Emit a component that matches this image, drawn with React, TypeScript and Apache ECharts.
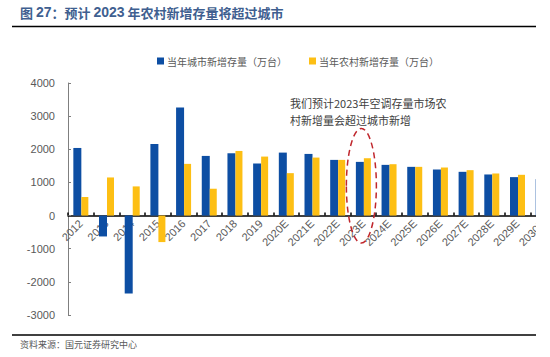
import React, { useEffect, useRef } from "react";
import * as echarts from "echarts";

const categories = ["2012", "2013", "2014", "2015", "2016", "2017", "2018", "2019", "2020E", "2021E", "2022E", "2023E", "2024E", "2025E", "2026E", "2027E", "2028E", "2029E", "2030E"];
const urbanNew = [2040, -630, -2350, 2160, 3260, 1800, 1880, 1570, 1900, 1860, 1680, 1620, 1530, 1470, 1390, 1320, 1240, 1160, 1100];
const ruralNew = [560, 1150, 880, -800, 1560, 810, 1950, 1780, 1280, 1750, 1680, 1730, 1550, 1470, 1450, 1370, 1270, 1230, 1180];
const urbanName = "当年城市新增存量（万台）";
const ruralName = "当年农村新增存量（万台）";
const yMin = -3000;
const yMax = 4000;
const yInterval = 1000;

const CJK = '"Noto Sans CJK SC", "Noto Sans", sans-serif';
const LAT = '"Liberation Sans", Arial, sans-serif';

const GRID_TOP = 83;
const GRID_BOTTOM = 42;
const H = 357;

export default function App() {
  const ref = useRef<HTMLDivElement>(null);
  useEffect(() => {
    if (!ref.current) return;
    const chart = echarts.init(ref.current, null, { renderer: "svg" });
    const gridH = H - GRID_TOP - GRID_BOTTOM;
    const zeroOffset = -(gridH * (-yMin)) / (yMax - yMin);
    const titleColor = "#3f5f90";
    const option: any = {
      animation: false,
      backgroundColor: "#ffffff",
      grid: { left: 68, right: -6, top: GRID_TOP, bottom: GRID_BOTTOM, containLabel: false, outerBoundsMode: "none" },
      legend: {
        left: 152,
        top: 51,
        itemWidth: 7,
        itemHeight: 7,
        itemGap: 22,
        icon: "rect",
        textStyle: { fontSize: 10, color: "#595959", fontFamily: CJK, padding: [0, 0, 0, -2] },
        data: [urbanName, ruralName],
      },
      xAxis: {
        type: "category",
        data: categories,
        offset: zeroOffset,
        z: 0,
        axisLine: { onZero: false, lineStyle: { color: "#000000", width: 1.5 } },
        axisTick: { show: true, inside: true, length: 3, lineStyle: { color: "#000000", width: 1.5 } },
        axisLabel: { rotate: 45, margin: 6, fontSize: 11, color: "#595959", fontFamily: LAT, interval: 0 },
        splitLine: { show: false },
      },
      yAxis: {
        type: "value",
        min: yMin,
        max: yMax,
        interval: yInterval,
        axisLine: { show: true, lineStyle: { color: "#7f7f7f", width: 1 } },
        axisTick: { show: true, inside: true, length: 3, lineStyle: { color: "#7f7f7f" } },
        axisLabel: { margin: 13, fontSize: 11, color: "#595959", fontFamily: LAT, formatter: (v: number) => String(v) },
        splitLine: { show: false },
      },
      series: [
        { name: urbanName, type: "bar", z: 5, data: urbanNew, barWidth: 8, barGap: "0%", itemStyle: { color: "#0d4ea3" } },
        { name: ruralName, type: "bar", z: 5, data: ruralNew, barWidth: 7, barGap: "0%", itemStyle: { color: "#fdbf14" } },
      ],
      graphic: [
        {
          type: "text",
          left: 20,
          top: 5,
          style: {
            text: "{c|图 }{d|27}{c|：预计 }{d|2023}{c| 年农村新增存量将超过城市}",
            rich: {
              c: { fontSize: 13, fontWeight: "bold", fill: titleColor, fontFamily: CJK },
              d: { fontSize: 14, fontWeight: "bold", fill: titleColor, fontFamily: LAT },
            },
          },
        },
        { type: "line", shape: { x1: 12, y1: 26.5, x2: 536, y2: 26.5 }, style: { stroke: "#000000", lineWidth: 1.5 } },
        { type: "line", shape: { x1: 12, y1: 335, x2: 536, y2: 335 }, style: { stroke: "#000000", lineWidth: 1.5 } },
        {
          type: "text",
          left: 20,
          top: 340,
          style: { text: "资料来源：国元证券研究中心", fontSize: 9, fill: "#595959", fontFamily: CJK },
        },
        {
          type: "text",
          left: 290,
          top: 94,
          style: { text: "我们预计2023年空调存量市场农\n村新增量会超过城市新增", fontSize: 11, lineHeight: 17, fill: "#404040", fontFamily: CJK },
        },
      ],
    };
    chart.setOption(option);
    const c = chart.convertToPixel({ xAxisIndex: 0, yAxisIndex: 0 }, ["2023E", 900]) as number[];
    const top = chart.convertToPixel({ xAxisIndex: 0, yAxisIndex: 0 }, ["2023E", 2630]) as number[];
    chart.setOption({
      graphic: [
        ...option.graphic,
        {
          type: "ellipse",
          shape: { cx: c[0] - 2, cy: c[1], rx: 15, ry: c[1] - top[1] },
          style: { fill: "none", stroke: "#c0272d", lineWidth: 1.5, lineDash: [6, 4] },
          z: 10,
        },
        { type: "rect", shape: { x: 536, y: 0, width: 20, height: 357 }, style: { fill: "#ffffff" }, z: 100 },
      ],
    });
    return () => chart.dispose();
  }, []);
  return <div ref={ref} style={{ position: "fixed", left: 0, top: 0, width: 550, height: 357 }} />;
}
